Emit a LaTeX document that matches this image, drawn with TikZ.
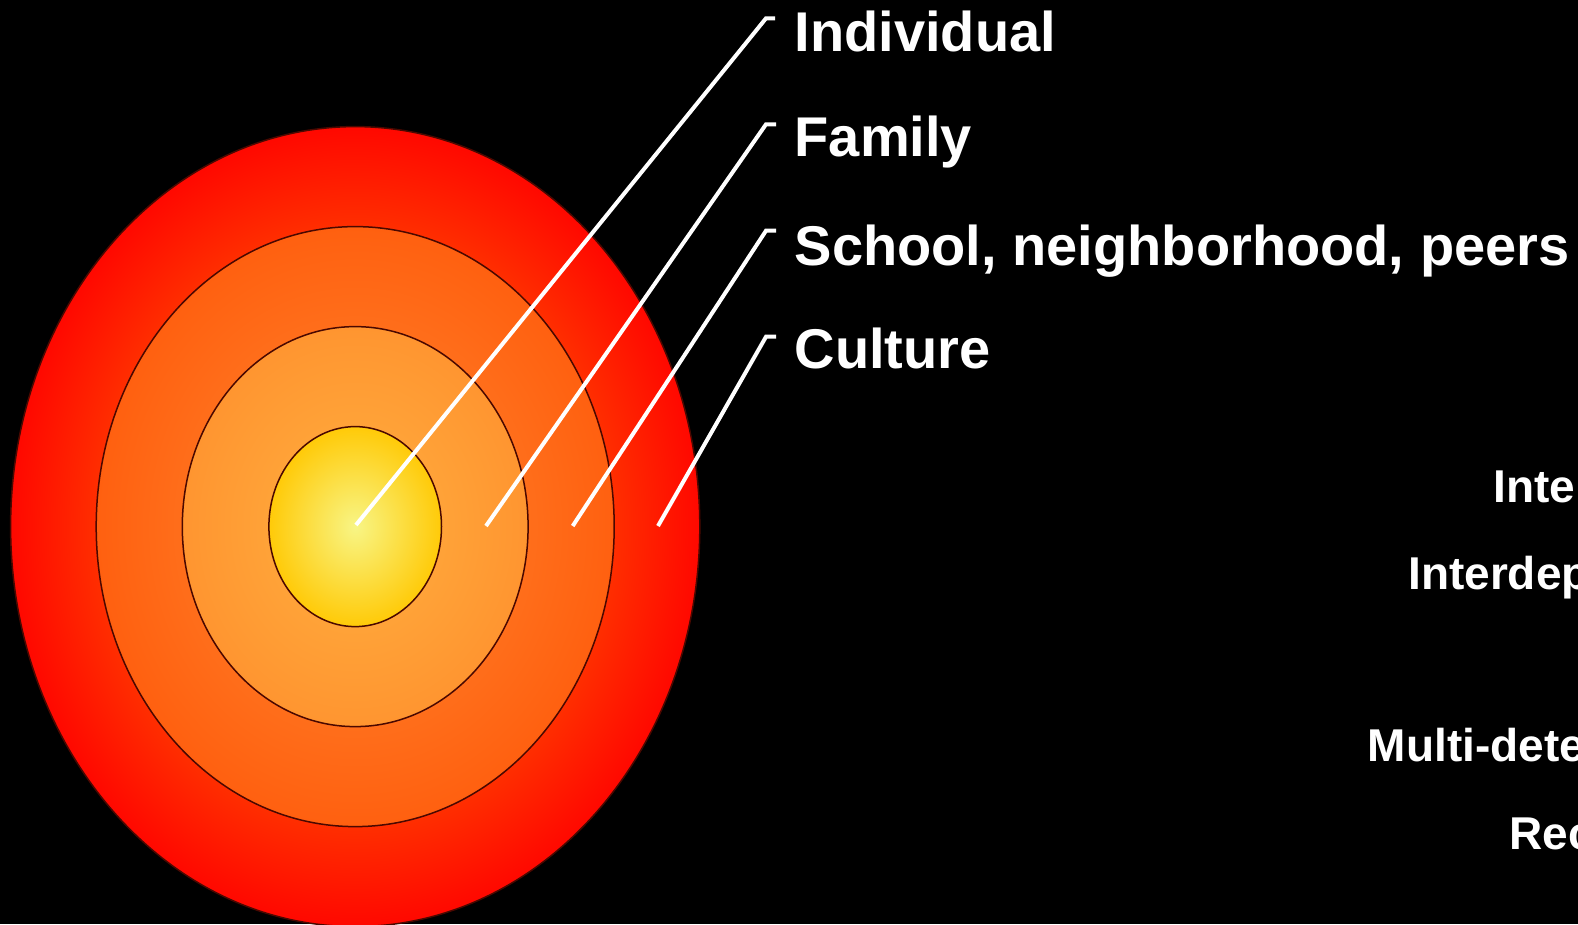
\documentclass[tikz,border=0pt]{standalone}
\usepackage{fontspec}
\setmainfont{Liberation Sans}
\definecolor{ringedge}{HTML}{4A0800}
\definecolor{outerIn}{HTML}{FFA000}
\definecolor{outerOut}{HTML}{FF0800}
\definecolor{thirdIn}{HTML}{FF8A30}
\definecolor{thirdOut}{HTML}{FF6010}
\definecolor{secondIn}{HTML}{FFB040}
\definecolor{secondOut}{HTML}{FF9530}
\definecolor{coreIn}{HTML}{F8F585}
\definecolor{coreOut}{HTML}{FFCA08}
\begin{document}
\begin{tikzpicture}[x=1pt,y=-1pt,
  ring/.style={draw=ringedge, line width=1.5pt, shading=radial},
  leader/.style={draw=white, line width=4pt},
  label/.style={anchor=base west, inner sep=0pt, text=white,
    font=\fontsize{56}{60}\selectfont\bfseries},
  side/.style={anchor=base west, inner sep=0pt, text=white,
    font=\fontsize{46}{50}\selectfont\bfseries}]
  % page and background
  \useasboundingbox (0,0) rectangle (1578,924);
  \fill[black] (0,0) rectangle (1578,924);
  \clip (0,0) rectangle (1578,924);

  % concentric rings, outermost first
  \coordinate (c) at (355.2,526.6);
  \path[ring, inner color=outerIn, outer color=outerOut]
    (c) ellipse [x radius=344.6pt, y radius=400pt];
  \path[ring, inner color=thirdIn, outer color=thirdOut]
    (c) ellipse [x radius=259pt, y radius=300pt];
  \path[ring, inner color=secondIn, outer color=secondOut]
    (c) ellipse [x radius=172.9pt, y radius=200pt];
  \path[ring, inner color=coreIn, outer color=coreOut]
    (c) ellipse [x radius=86.3pt, y radius=100pt];

  % labels
  \node[label] (ind) at (794.5,51.7)  {Individual};
  \node[label] (fam) at (794.5,156.7) {Family};
  \node[label] (sch) at (794.5,265)   {School, neighborhood, peers};
  \node[label] (cul) at (794.5,368)   {Culture};

  % leader lines: start inside a ring, bend into a short tick
  \coordinate (p1) at (356,525);   \coordinate (k1) at (766,18.3);  \coordinate (t1) at (775,18.3);
  \coordinate (p2) at (486,526);   \coordinate (k2) at (766,124.3); \coordinate (t2) at (776,124.3);
  \coordinate (p3) at (572.7,526); \coordinate (k3) at (766,230.7); \coordinate (t3) at (776,230.7);
  \coordinate (p4) at (658,526);   \coordinate (k4) at (766,336.7); \coordinate (t4) at (776,336.7);
  \draw[leader] (p1) -- (k1) -- (t1);
  \draw[leader] (p2) -- (k2) -- (t2);
  \draw[leader] (p3) -- (k3) -- (t3);
  \draw[leader] (p4) -- (k4) -- (t4);

  % right-hand column, running past the page edge
  \node[side] (s1) at (1493,502.7) {Inte};
  \node[side] (s2) at (1408,589)   {Interdep};
  \node[side] (s3) at (1367.6,761.7) {Multi-dete};
  \node[side] (s4) at (1509,849.3) {Rec};
\end{tikzpicture}
\end{document}
